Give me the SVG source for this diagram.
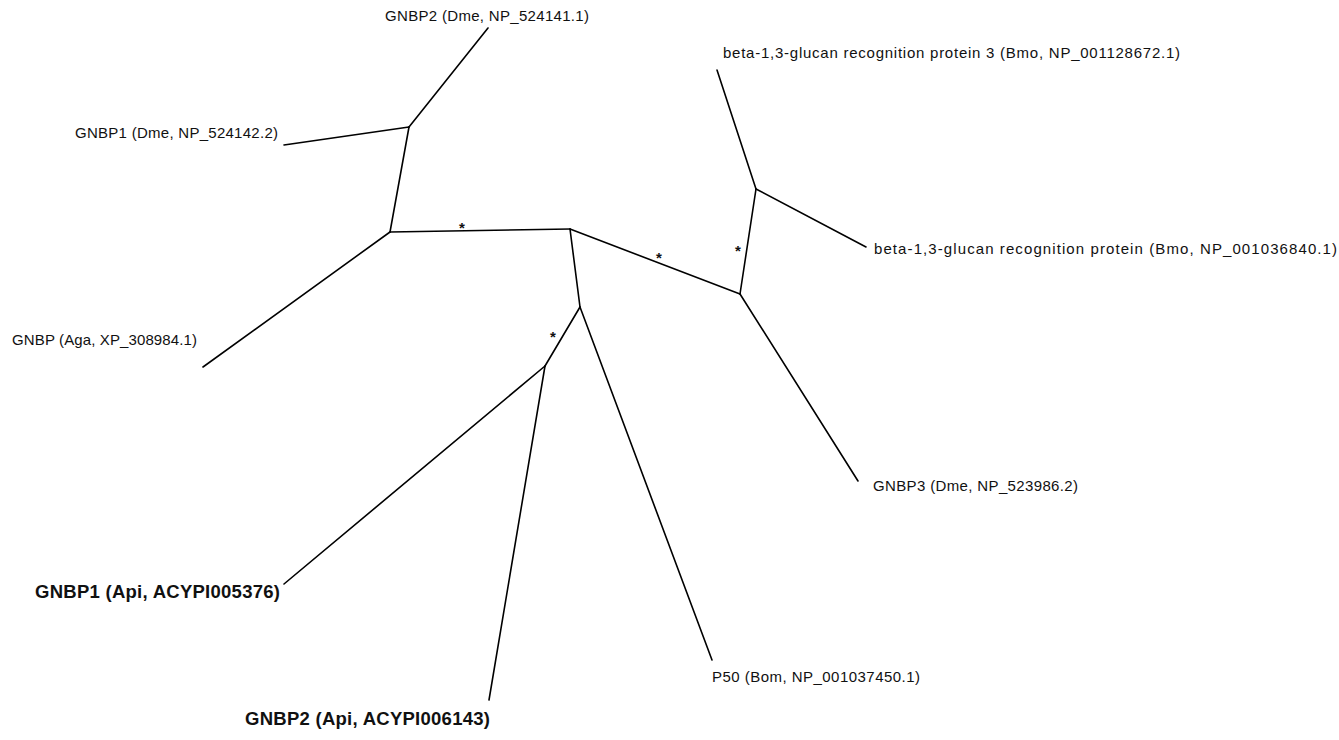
<svg xmlns="http://www.w3.org/2000/svg" width="1339" height="740" viewBox="0 0 1339 740">
<style>
.e{stroke:#000;stroke-width:1.6;fill:none;stroke-linecap:round}
.t{font-family:"Liberation Sans",Arial,sans-serif;font-size:15px;fill:#111}
.b{font-family:"Liberation Sans",Arial,sans-serif;font-size:18.5px;font-weight:bold;fill:#111}
.s{font-family:"Liberation Sans",Arial,sans-serif;font-size:15px;font-weight:bold;fill:#111;text-anchor:middle}
</style>
<rect width="1339" height="740" fill="#fff"/>
<g id="connectors">
<path class="e" d="M409,127 L488,28"/>
<path class="e" d="M409,127 L284,145"/>
<path class="e" d="M409,127 L390,232"/>
<path class="e" d="M390,232 L203,367"/>
<path class="e" d="M390,232 L570,229"/>
<path class="e" d="M570,229 L580,307"/>
<path class="e" d="M570,229 L740,294"/>
<path class="e" d="M580,307 L545,366"/>
<path class="e" d="M580,307 L712,660"/>
<path class="e" d="M545,366 L284,584"/>
<path class="e" d="M545,366 L489,700"/>
<path class="e" d="M740,294 L756,189"/>
<path class="e" d="M740,294 L858,481"/>
<path class="e" d="M756,189 L717,70"/>
<path class="e" d="M756,189 L866,247"/>
</g>
<g id="support">
<text class="s" x="462" y="233">*</text>
<text class="s" x="659" y="263">*</text>
<text class="s" x="738" y="256">*</text>
<text class="s" x="553" y="342">*</text>
</g>
<g id="leaf-gnbp2-dme"><text class="t" x="385" y="21" textLength="204">GNBP2 (Dme, NP_524141.1)</text></g>
<g id="leaf-gnbp1-dme"><text class="t" x="75" y="138" textLength="203">GNBP1 (Dme, NP_524142.2)</text></g>
<g id="leaf-gnbp-aga"><text class="t" x="12" y="345" textLength="185">GNBP (Aga, XP_308984.1)</text></g>
<g id="leaf-gnbp1-api"><text class="b" x="35" y="598" textLength="245">GNBP1 (Api, ACYPI005376)</text></g>
<g id="leaf-gnbp2-api"><text class="b" x="245" y="725" textLength="245">GNBP2 (Api, ACYPI006143)</text></g>
<g id="leaf-p50"><text class="t" x="712" y="682" textLength="208">P50 (Bom, NP_001037450.1)</text></g>
<g id="leaf-gnbp3-dme"><text class="t" x="873" y="491" textLength="205">GNBP3 (Dme, NP_523986.2)</text></g>
<g id="leaf-bgrp-bmo"><text class="t" x="874" y="254" textLength="463">beta-1,3-glucan recognition protein (Bmo, NP_001036840.1)</text></g>
<g id="leaf-bgrp3-bmo"><text class="t" x="723" y="58" textLength="457">beta-1,3-glucan recognition protein 3 (Bmo, NP_001128672.1)</text></g>
</svg>
